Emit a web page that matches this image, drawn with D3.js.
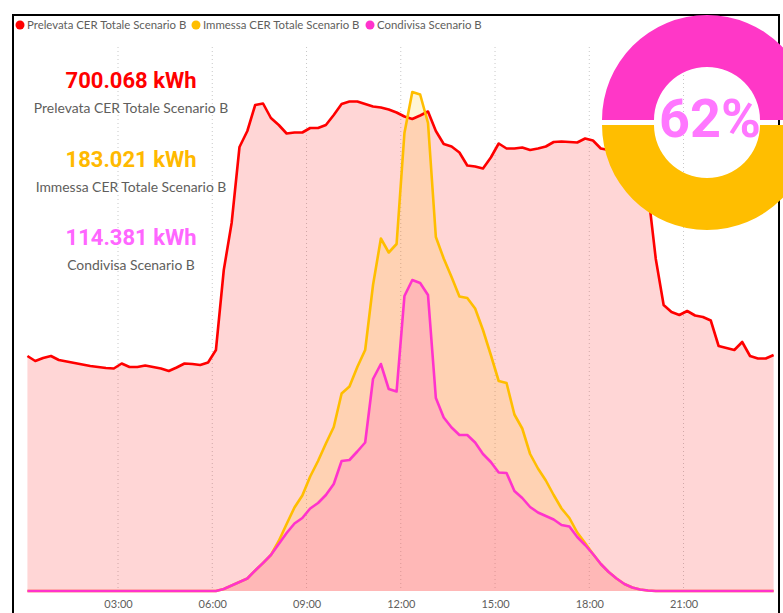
<!DOCTYPE html>
<html>
<head>
<meta charset="utf-8">
<script src="https://cdn.jsdelivr.net/npm/d3@7"></script>
<style>
  body { margin: 0; background: #fff; }
  svg { display: block; font-family: Lato, "Open Sans", sans-serif; }
</style>
</head>
<body>
<div id="chart"></div>
<script>
var width = 783,
    height = 613;

// quarter-hour slots of the day (00:00 .. 23:45)
var slots = d3.range(96).map(function(i) { return new Date(2023, 0, 1, 0, i * 15); });

// kWh per quarter hour
var prelevata = [
  4700,4600,4660,4700,4620,4590,4560,4530,4500,4480,4460,4450,
  4550,4480,4480,4510,4480,4450,4400,4470,4550,4540,4520,4570,
  4820,6420,7360,8880,9200,9720,9750,9460,9320,9150,9170,9170,
  9260,9260,9320,9520,9740,9790,9790,9740,9690,9670,9630,9570,
  9490,9440,9510,9590,9200,8940,8890,8770,8510,8490,8450,8670,
  8950,8850,8850,8870,8820,8850,8890,8980,8990,8980,8970,9050,
  9010,8850,8820,8820,8780,8720,8620,8000,6640,5720,5580,5520,
  5600,5510,5480,5410,4900,4860,4820,4980,4700,4650,4650,4720
];
var immessa = [
  0,0,0,0,0,0,0,0,0,0,0,0,
  0,0,0,0,0,0,0,0,0,0,0,0,
  0,40,110,180,250,410,560,720,1000,1340,1670,1910,
  2290,2600,2950,3280,3950,4090,4480,4820,6120,7050,6770,6940,
  9160,9980,9930,9360,7080,6650,6280,5890,5860,5650,5220,4720,
  4200,4160,3530,3250,2740,2450,2210,1920,1650,1460,1170,960,
  740,540,380,250,140,70,30,10,0,0,0,0,
  0,0,0,0,0,0,0,0,0,0,0,0
];
var condivisa = [
  0,0,0,0,0,0,0,0,0,0,0,0,
  0,0,0,0,0,0,0,0,0,0,0,0,
  0,40,110,180,250,410,560,720,940,1160,1350,1460,
  1650,1760,1920,2140,2600,2620,2790,2970,4240,4540,4040,3990,
  5900,6220,6160,5920,3860,3470,3270,3120,3120,2970,2740,2580,
  2370,2360,2000,1860,1680,1570,1500,1430,1320,1290,1080,920,
  740,540,380,250,140,70,30,10,0,0,0,0,
  0,0,0,0,0,0,0,0,0,0,0,0
];

var seriesNames = ["Prelevata CER Totale Scenario B", "Immessa CER Totale Scenario B", "Condivisa Scenario B"];
var seriesColors = ["#ff0000", "#ffbe00", "#ff33cc"];
var kpiValues = ["700.068 kWh", "183.021 kWh", "114.381 kWh"];
var kpiColors = ["#ff0000", "#ffb900", "#ff66ff"];
var donutSlices = [50, 50];
var donutColors = ["#ff37c7", "#ffbe00"];
var donutLabel = "62%";

var svg = d3.select("#chart")
    .append("svg")
    .attr("width", width)
    .attr("height", height);

var x = d3.scaleTime()
    .domain([new Date(2023, 0, 1, 0, 0), new Date(2023, 0, 2, 0, 0)])
    .range([23.75, 777.8]);

var y = d3.scaleLinear()
    .domain([0, 11000])
    .range([591, 41]);

// points sit in the middle of their quarter hour
function px(i) { return x(d3.timeMinute.offset(slots[i], 7.5)); }

// frame
svg.append("rect")
    .attr("x", 13)
    .attr("y", 15)
    .attr("width", 766)
    .attr("height", 640)
    .attr("fill", "none")
    .attr("stroke", "#000")
    .attr("stroke-width", 2);

// dotted gridlines + time labels
var ticks = x.ticks(d3.timeHour.every(3)).filter(function(d) { return d.getDate() == 1 && d.getHours() > 0; });

svg.append("g")
    .selectAll("line")
    .data(ticks).enter()
    .append("line")
    .attr("x1", function(d) { return x(d); })
    .attr("x2", function(d) { return x(d); })
    .attr("y1", 47)
    .attr("y2", 591)
    .attr("stroke", "#c8c8c8")
    .attr("stroke-dasharray", "1,3");

var xAxis = svg.append("g")
    .attr("transform", "translate(0,591)")
    .call(d3.axisBottom(x).tickValues(ticks).tickFormat(d3.timeFormat("%H:%M")).tickSize(0).tickPadding(9));
xAxis.select(".domain").remove();
xAxis.selectAll("text")
    .attr("fill", "#605e5c")
    .style("font-size", "11px")
    .style("font-family", "Lato, 'Open Sans', sans-serif");

// areas and lines
var series = [prelevata, immessa, condivisa];

var area = d3.area()
    .x(function(d, i) { return px(i); })
    .y0(y(0))
    .y1(function(d) { return y(d); });

var line = d3.line()
    .x(function(d, i) { return px(i); })
    .y(function(d) { return y(d); });

svg.append("g")
    .selectAll("path")
    .data(series).enter()
    .append("path")
    .attr("d", area)
    .attr("fill", function(d, i) { return seriesColors[i]; })
    .attr("fill-opacity", 0.16);

svg.append("g")
    .selectAll("path")
    .data(series).enter()
    .append("path")
    .attr("d", line)
    .attr("fill", "none")
    .attr("stroke", function(d, i) { return seriesColors[i]; })
    .attr("stroke-width", 2.6)
    .attr("stroke-linejoin", "round");

// legend
var legendX = [20, 196, 370];
var legend = svg.append("g")
    .selectAll("g")
    .data(seriesNames).enter()
    .append("g")
    .attr("transform", function(d, i) { return "translate(" + legendX[i] + ",25)"; });

legend.append("circle")
    .attr("r", 4.5)
    .attr("fill", function(d, i) { return seriesColors[i]; });

legend.append("text")
    .attr("x", 7)
    .attr("dy", "0.35em")
    .attr("fill", "#605e5c")
    .style("font-size", "11.4px")
    .text(function(d) { return d; });

// kpi cards
var kpiY = [88, 167, 245];
var kpi = svg.append("g")
    .selectAll("g")
    .data(kpiValues).enter()
    .append("g")
    .attr("transform", function(d, i) { return "translate(131," + kpiY[i] + ")"; });

kpi.append("text")
    .attr("text-anchor", "middle")
    .attr("fill", function(d, i) { return kpiColors[i]; })
    .style("font-family", "Roboto, sans-serif")
    .style("font-weight", "bold")
    .style("font-size", "22px")
    .text(function(d) { return d; });

kpi.append("text")
    .attr("text-anchor", "middle")
    .attr("y", 25)
    .attr("fill", "#605e5c")
    .style("font-size", "13.9px")
    .text(function(d, i) { return seriesNames[i]; });

// donut
var pie = d3.pie().sort(null).startAngle(-Math.PI / 2).endAngle(3 * Math.PI / 2);
var arc = d3.arc().innerRadius(53).outerRadius(105);

var donut = svg.append("g")
    .attr("transform", "translate(707,122.5)");

donut.selectAll("path")
    .data(pie(donutSlices)).enter()
    .append("path")
    .attr("d", arc)
    .attr("fill", function(d, i) { return donutColors[i]; })
    .attr("transform", function(d, i) { return "translate(0," + (i == 0 ? -2.5 : 2.5) + ")"; });

donut.append("text")
    .attr("x", 3)
    .attr("y", 14)
    .attr("text-anchor", "middle")
    .attr("fill", "#ff77ff")
    .style("font-family", "Roboto, sans-serif")
    .style("font-weight", "bold")
    .style("font-size", "54px")
    .text(donutLabel);
</script>
</body>
</html>
